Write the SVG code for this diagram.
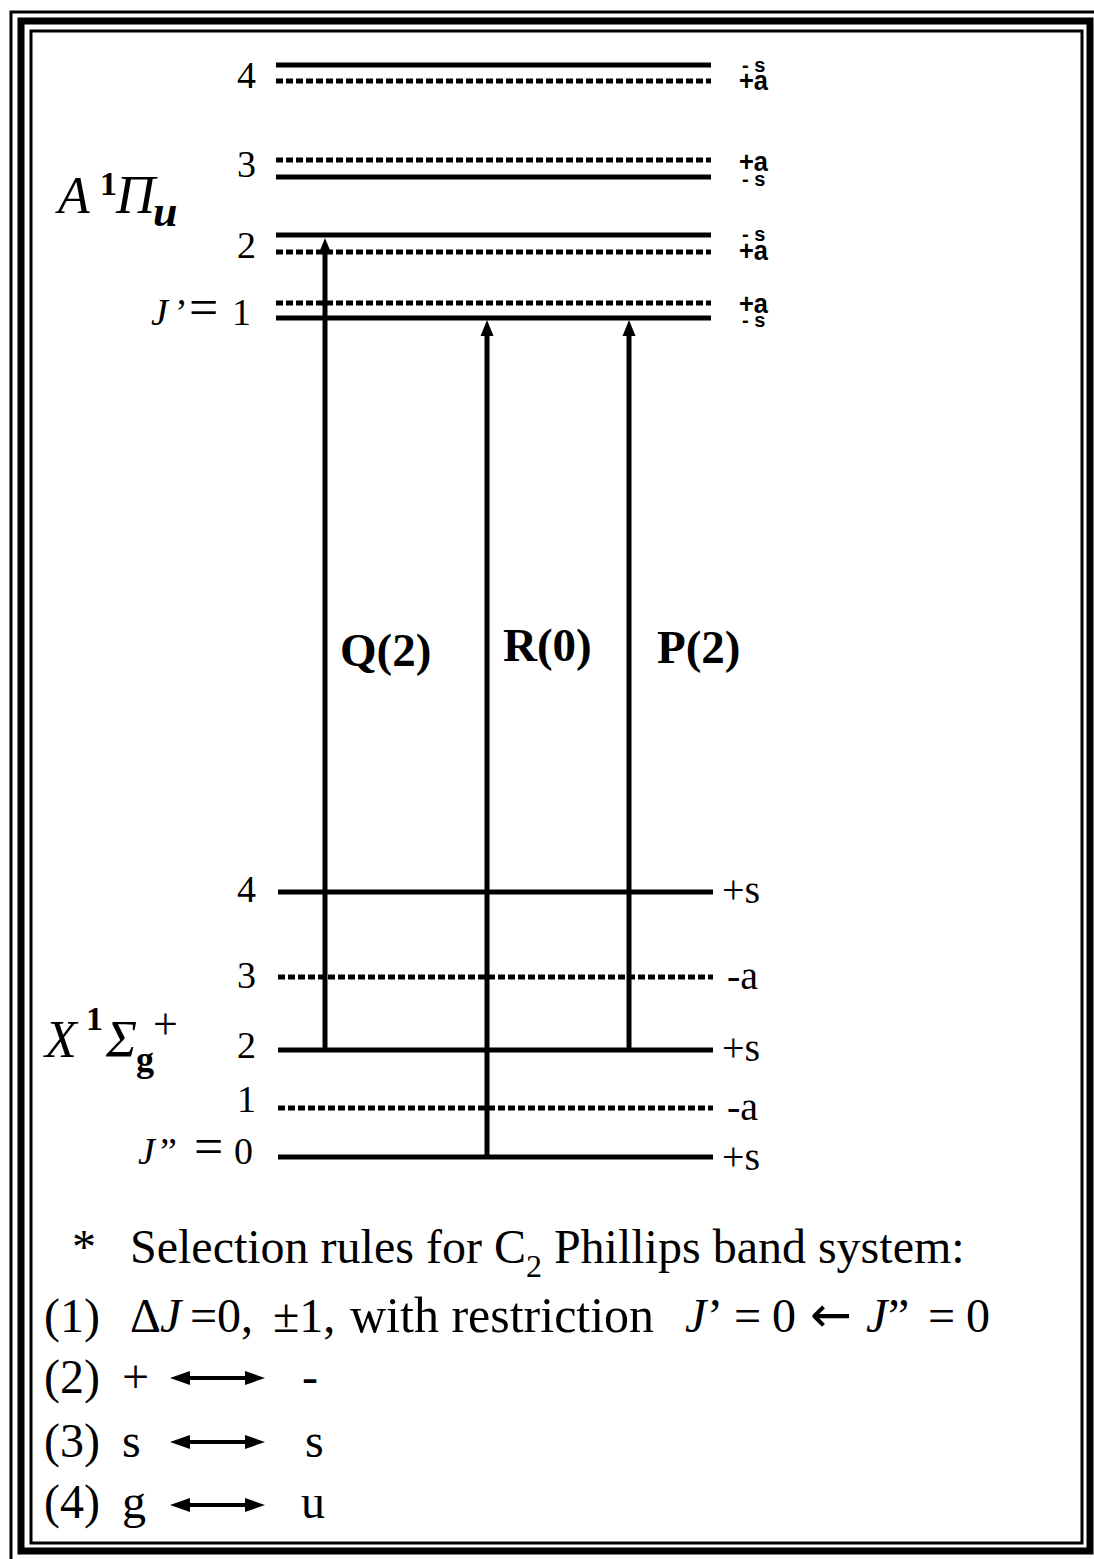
<svg xmlns="http://www.w3.org/2000/svg" width="1094" height="1559" viewBox="0 0 1094 1559">
<style>
.t{font-family:"Liberation Serif","Times New Roman",serif;fill:#000}
.n{font-size:38px}
.pm{font-family:"Liberation Sans",Arial,sans-serif;fill:#000;font-weight:bold}
.ps{font-size:20px}
.pa{font-size:27px}
.s{stroke:#000;stroke-width:5;fill:none}
.d{stroke:#000;stroke-width:5;fill:none;stroke-dasharray:7 3}
.tr{stroke:#000;stroke-width:5;fill:none;marker-end:url(#ah)}
.da{stroke:#000;stroke-width:4;fill:none;marker-start:url(#ah2);marker-end:url(#ah2)}
.lb{font-size:47px;font-weight:bold}
.r{font-size:48px}
.i{font-style:italic}
.eq{font-size:52px}
</style>
<defs>
<marker id="ah" markerUnits="userSpaceOnUse" markerWidth="16" markerHeight="13" refX="6" refY="6.5" orient="auto" overflow="visible">
<path d="M0,0 L16,6.5 L0,13 z" fill="#000"/>
</marker>
<marker id="ah2" markerUnits="userSpaceOnUse" markerWidth="20" markerHeight="14" refX="9" refY="7" orient="auto-start-reverse" overflow="visible">
<path d="M0,0 L20,7 L0,14 z" fill="#000"/>
</marker>
</defs>
<rect width="1094" height="1559" fill="#fff"/>
<g id="frame" fill="none" stroke="#000">
<rect x="11" y="12" width="1090" height="1560" stroke-width="3"/>
<rect x="21" y="21" width="1069" height="1530" stroke-width="7"/>
<rect x="31" y="31" width="1051" height="1512" stroke-width="3"/>
</g>
<g id="upper-state">
<g id="A-label" class="t">
<text x="58" y="213" font-size="52" font-style="italic">A</text>
<text x="100" y="195" font-size="34" font-weight="bold">1</text>
<text x="116" y="213" font-size="54" font-style="italic">Π</text>
<text x="153" y="226" font-size="44" font-weight="bold" font-style="italic">u</text>
</g>
<g id="Jp4">
<line class="s" x1="276" y1="65" x2="711" y2="65"/>
<line class="d" x1="276" y1="81" x2="711" y2="81"/>
<text class="t n" x="256" y="88" text-anchor="end">4</text>
<text class="pm"><tspan class="ps" x="742" y="72">- s</tspan><tspan class="pa" x="739" y="90" textLength="29" lengthAdjust="spacingAndGlyphs">+a</tspan></text>
</g>
<g id="Jp3">
<line class="d" x1="276" y1="160" x2="711" y2="160"/>
<line class="s" x1="276" y1="177" x2="711" y2="177"/>
<text class="t n" x="256" y="177" text-anchor="end">3</text>
<text class="pm"><tspan class="pa" x="739" y="171" textLength="29" lengthAdjust="spacingAndGlyphs">+a</tspan><tspan class="ps" x="742" y="186">- s</tspan></text>
</g>
<g id="Jp2">
<line class="s" x1="276" y1="235" x2="711" y2="235"/>
<line class="d" x1="276" y1="252" x2="711" y2="252"/>
<text class="t n" x="256" y="258" text-anchor="end">2</text>
<text class="pm"><tspan class="ps" x="742" y="241">- s</tspan><tspan class="pa" x="739" y="260" textLength="29" lengthAdjust="spacingAndGlyphs">+a</tspan></text>
</g>
<g id="Jp1">
<line class="d" x1="276" y1="303" x2="711" y2="303"/>
<line class="s" x1="276" y1="318" x2="711" y2="318"/>
<text class="t n" y="325"><tspan class="i" x="151">J</tspan><tspan x="175">’</tspan><tspan class="eq" x="189">=</tspan><tspan x="232">1</tspan></text>
<text class="pm"><tspan class="pa" x="739" y="313" textLength="29" lengthAdjust="spacingAndGlyphs">+a</tspan><tspan class="ps" x="742" y="327">- s</tspan></text>
</g>
</g>
<g id="lower-state">
<g id="X-label" class="t">
<text x="45" y="1057" font-size="52" font-style="italic">X</text>
<text x="86" y="1030" font-size="34" font-weight="bold">1</text>
<text x="106" y="1057" font-size="52" font-style="italic">Σ</text>
<text x="136" y="1071" font-size="36" font-weight="bold">g</text>
<text x="153" y="1039" font-size="44">+</text>
</g>
<g id="Jpp4">
<line class="s" x1="278" y1="892" x2="713" y2="892"/>
<text class="t n" x="256" y="902" text-anchor="end">4</text>
<text class="t" font-size="40" x="722" y="903">+s</text>
</g>
<g id="Jpp3">
<line class="d" x1="278" y1="977" x2="713" y2="977"/>
<text class="t n" x="256" y="988" text-anchor="end">3</text>
<text class="t" font-size="40" x="727" y="989">-a</text>
</g>
<g id="Jpp2">
<line class="s" x1="278" y1="1050" x2="713" y2="1050"/>
<text class="t n" x="256" y="1058" text-anchor="end">2</text>
<text class="t" font-size="40" x="722" y="1061">+s</text>
</g>
<g id="Jpp1">
<line class="d" x1="278" y1="1108" x2="713" y2="1108"/>
<text class="t n" x="256" y="1112" text-anchor="end">1</text>
<text class="t" font-size="40" x="727" y="1120">-a</text>
</g>
<g id="Jpp0">
<line class="s" x1="278" y1="1157" x2="713" y2="1157"/>
<text class="t n" y="1164"><tspan class="i" x="138">J</tspan><tspan x="160">”</tspan><tspan class="eq" x="194">=</tspan><tspan x="234">0</tspan></text>
<text class="t" font-size="40" x="722" y="1170">+s</text>
</g>
</g>
<g id="connectors">
<line class="tr" x1="325" y1="1050" x2="325" y2="248"/>
<line class="tr" x1="487" y1="1157" x2="487" y2="330"/>
<line class="tr" x1="629" y1="1050" x2="629" y2="330"/>
</g>
<g id="transition-labels" class="t lb">
<text x="340" y="666">Q(2)</text>
<text x="503" y="661">R(0)</text>
<text x="657" y="663">P(2)</text>
</g>
<g id="rules" class="t r">
<text x="72" y="1263">*</text>
<text x="130" y="1263">Selection rules for C<tspan font-size="32" dy="14">2</tspan><tspan dy="-14"> Phillips band system:</tspan></text>
<text x="44" y="1332">(1)</text>
<text y="1332"><tspan x="130">Δ</tspan><tspan class="i" x="160">J</tspan><tspan x="190">=0,</tspan><tspan x="273">±1,</tspan><tspan x="350" font-size="50">with restriction</tspan><tspan class="i" x="685">J</tspan><tspan x="707">’</tspan><tspan x="734">=</tspan><tspan x="772">0</tspan><tspan x="810" font-family="'DejaVu Sans',sans-serif" font-size="50">←</tspan><tspan class="i" x="866">J</tspan><tspan x="888">”</tspan><tspan x="928">=</tspan><tspan x="966">0</tspan></text>
<text x="44" y="1393">(2)</text>
<text x="122" y="1393">+</text>
<text x="302" y="1393">-</text>
<text x="44" y="1457">(3)</text>
<text x="122" y="1457">s</text>
<text x="305" y="1457">s</text>
<text x="44" y="1518">(4)</text>
<text x="122" y="1518">g</text>
<text x="301" y="1518">u</text>
</g>
<g id="rule-arrows">
<line class="da" x1="181" y1="1378" x2="254" y2="1378"/>
<line class="da" x1="181" y1="1442" x2="254" y2="1442"/>
<line class="da" x1="181" y1="1505" x2="254" y2="1505"/>
</g>
</svg>
